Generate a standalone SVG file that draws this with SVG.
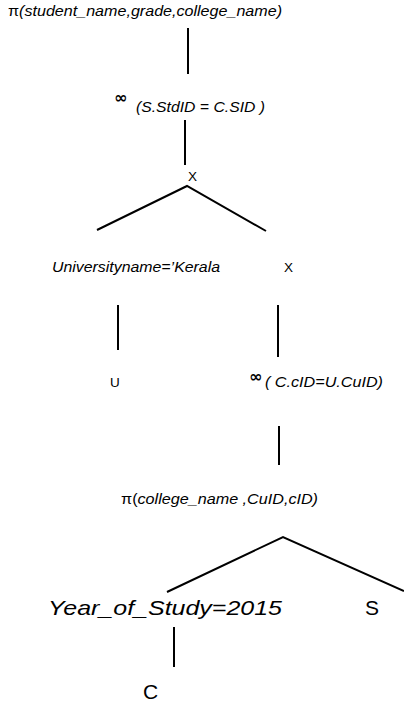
<svg xmlns="http://www.w3.org/2000/svg" width="404" height="706" viewBox="0 0 404 706">
  <style>
    .lbl { font-family: "Liberation Sans", Arial, sans-serif; fill: #000; }
    .it { font-style: italic; }
    .sm { font-size: 14px; }
    .op { font-size: 13.5px; }
    .lg { font-size: 21px; }
    .inf { font-family: "DejaVu Sans", "Liberation Sans", sans-serif; font-size: 16px; font-weight: bold; fill: #000; }
    .edge { stroke: #000; stroke-width: 2; fill: none; stroke-linecap: butt; }
  </style>
  <rect width="404" height="706" fill="#fff"/>

  <!-- edges of the query tree -->
  <g id="connectors">
    <line class="edge" x1="188" y1="28" x2="188" y2="74"/>
    <line class="edge" x1="185" y1="120" x2="185" y2="165"/>
    <polyline class="edge" points="97,230 187,186 266,231"/>
    <line class="edge" x1="118" y1="305" x2="118" y2="350"/>
    <line class="edge" x1="278" y1="305" x2="278" y2="357"/>
    <line class="edge" x1="279" y1="426" x2="279" y2="465"/>
    <polyline class="edge" points="167,592 283,537 404,591"/>
    <line class="edge" x1="174" y1="627" x2="174" y2="667"/>
  </g>

  <!-- final projection -->
  <g id="project-top">
    <text class="lbl sm" x="8" y="16" textLength="274" lengthAdjust="spacingAndGlyphs">π<tspan class="it">(student_name,grade,college_name)</tspan></text>
  </g>

  <!-- join on student id -->
  <g id="join-student">
    <text class="inf" x="114" y="103">∞</text>
    <text class="lbl sm it" x="136" y="112" textLength="129" lengthAdjust="spacingAndGlyphs">(S.StdID = C.SID )</text>
  </g>

  <g id="cross-top">
    <text class="lbl op" x="188" y="181">X</text>
  </g>

  <g id="select-university">
    <text class="lbl sm it" x="52" y="272" textLength="168" lengthAdjust="spacingAndGlyphs">Universityname=’Kerala</text>
  </g>

  <g id="cross-right">
    <text class="lbl op" x="284" y="272">X</text>
  </g>

  <g id="rel-u">
    <text class="lbl op" x="110" y="387">U</text>
  </g>

  <!-- join on course id -->
  <g id="join-course">
    <text class="inf" x="249" y="382">∞</text>
    <text class="lbl sm it" x="265" y="387" textLength="118" lengthAdjust="spacingAndGlyphs">( C.cID=U.CuID)</text>
  </g>

  <g id="project-college">
    <text class="lbl sm" x="121" y="504" textLength="197" lengthAdjust="spacingAndGlyphs">π(<tspan class="it">college_name ,CuID,cID)</tspan></text>
  </g>

  <g id="select-year">
    <text class="lbl lg it" x="48" y="615" textLength="234" lengthAdjust="spacingAndGlyphs">Year_of_Study=2015</text>
  </g>

  <g id="rel-s">
    <text class="lbl lg" x="365" y="615">S</text>
  </g>

  <g id="rel-c">
    <text class="lbl lg" x="143" y="699">C</text>
  </g>
</svg>
